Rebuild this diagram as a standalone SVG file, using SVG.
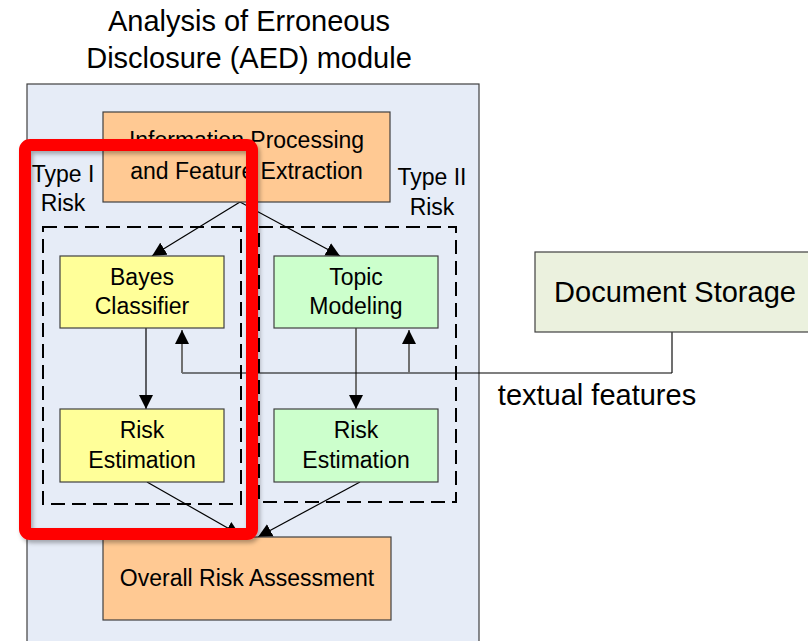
<svg xmlns="http://www.w3.org/2000/svg" width="808" height="641" viewBox="0 0 808 641">
<style>
text{font-family:"Liberation Sans",Arial,sans-serif;fill:#000;text-anchor:middle}
.t23{font-size:23px}
.t28{font-size:29px}
.box{stroke:#404040;stroke-width:1.2}
.ln{fill:none;stroke:#000;stroke-width:1.2}
.gl{fill:none;stroke:#707070;stroke-width:2}
.dash{fill:none;stroke:#000;stroke-width:2;stroke-dasharray:14 7}
</style>
<defs>
<marker id="ah" viewBox="0 0 14 14" refX="14" refY="7" markerWidth="14" markerHeight="14" markerUnits="userSpaceOnUse" orient="auto">
<path d="M0,0 L14,7 L0,14 Z" fill="#000"/>
</marker>
<filter id="sh" x="-10%" y="-10%" width="120%" height="120%">
<feDropShadow dx="2" dy="3" stdDeviation="2" flood-color="#000" flood-opacity="0.3"/>
</filter>
</defs>
<g id="title">
<text class="t28" x="249" y="31">Analysis of Erroneous</text>
<text class="t28" x="249" y="68">Disclosure (AED) module</text>
</g>
<g id="aed-module">
<rect x="27" y="84" width="452" height="600" fill="#E6ECF7" stroke="#404040" stroke-width="1.2"/>
</g>
<g id="type1-group">
<rect class="dash" x="43" y="227" width="198" height="277"/>
<text class="t23" x="63" y="182">Type I</text>
<text class="t23" x="63" y="211">Risk</text>
</g>
<g id="type2-group">
<rect class="dash" x="259" y="227" width="197" height="275"/>
<text class="t23" x="432" y="185">Type II</text>
<text class="t23" x="432" y="215">Risk</text>
</g>
<g id="connectors">
<line class="ln" x1="240" y1="202" x2="152" y2="256" marker-end="url(#ah)"/>
<line class="ln" x1="240" y1="202" x2="340" y2="256" marker-end="url(#ah)"/>
<line class="ln" x1="146" y1="328" x2="146" y2="409" marker-end="url(#ah)"/>
<line class="gl" x1="356" y1="328" x2="356" y2="409" marker-end="url(#ah)"/>
<polyline class="gl" points="672,332 672,373"/>
<line class="ln" x1="672" y1="373" x2="182" y2="373"/>
<line class="gl" x1="182" y1="373" x2="182" y2="330" marker-end="url(#ah)"/>
<line class="gl" x1="409" y1="373" x2="409" y2="330" marker-end="url(#ah)"/>
<line class="ln" x1="147" y1="482" x2="240" y2="535" marker-end="url(#ah)"/>
<line class="ln" x1="360" y1="482" x2="258" y2="537" marker-end="url(#ah)"/>
</g>
<g id="info-processing">
<rect class="box" x="103" y="112" width="287" height="90" fill="#FFC993"/>
<text class="t23" x="246.5" y="148">Information Processing</text>
<text class="t23" x="246.5" y="179">and Feature Extraction</text>
</g>
<g id="bayes-classifier">
<rect class="box" x="60" y="256" width="164" height="72" fill="#FFFF99"/>
<text class="t23" x="142" y="285">Bayes</text>
<text class="t23" x="142" y="314">Classifier</text>
</g>
<g id="topic-modeling">
<rect class="box" x="274" y="256" width="164" height="72" fill="#CCFFCC"/>
<text class="t23" x="356" y="285">Topic</text>
<text class="t23" x="356" y="314">Modeling</text>
</g>
<g id="risk-estimation-1">
<rect class="box" x="60" y="409" width="164" height="73" fill="#FFFF99"/>
<text class="t23" x="142" y="438">Risk</text>
<text class="t23" x="142" y="468">Estimation</text>
</g>
<g id="risk-estimation-2">
<rect class="box" x="274" y="409" width="164" height="73" fill="#CCFFCC"/>
<text class="t23" x="356" y="438">Risk</text>
<text class="t23" x="356" y="468">Estimation</text>
</g>
<g id="overall-risk">
<rect class="box" x="103" y="537" width="288" height="83" fill="#FFC993"/>
<text class="t23" x="247" y="586">Overall Risk Assessment</text>
</g>
<g id="document-storage">
<rect class="box" x="535" y="252" width="280" height="80" fill="#EBF1DE"/>
<text class="t28" x="675" y="302">Document Storage</text>
</g>
<g id="textual-features-label">
<text class="t28" x="597" y="405">textual features</text>
</g>
<g id="highlight">
<rect x="25" y="145" width="227" height="389" rx="5" fill="none" stroke="#FF0000" stroke-width="12" filter="url(#sh)"/>
</g>
</svg>
